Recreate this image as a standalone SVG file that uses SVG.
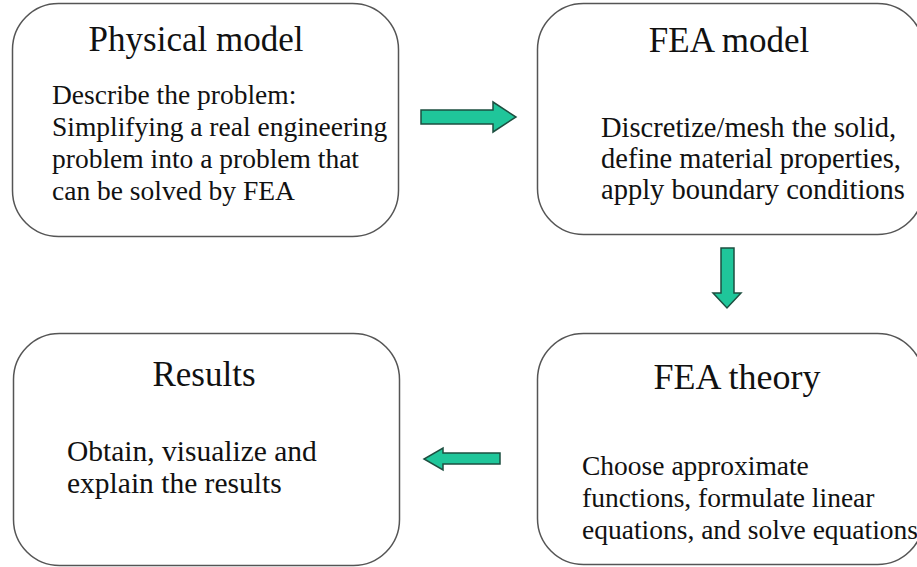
<svg xmlns="http://www.w3.org/2000/svg" width="917" height="567" viewBox="0 0 917 567">
  <style>
    .box { fill: #ffffff; stroke: #555555; stroke-width: 1.5; }
    .title { font-family: "Liberation Serif", "Times New Roman", serif; font-size: 35px; fill: #111111; text-anchor: middle; }
    .body { font-family: "Liberation Serif", "Times New Roman", serif; font-size: 27.5px; fill: #111111; }
    .arrow { fill: #1fc69a; stroke: #1d4f40; stroke-width: 1.5; stroke-linejoin: miter; }
  </style>
  <rect width="917" height="567" fill="#ffffff"/>

  <g id="physical-model">
    <rect class="box" x="12.5" y="3.5" width="386" height="233" rx="46" ry="46"/>
    <text class="title" x="196" y="51">Physical model</text>
    <text class="body" x="52" y="104">Describe the problem:</text>
    <text class="body" x="52" y="136">Simplifying a real engineering</text>
    <text class="body" x="52" y="168">problem into a problem that</text>
    <text class="body" x="52" y="200">can be solved by FEA</text>
  </g>

  <g id="fea-model">
    <rect class="box" x="537.5" y="3.5" width="386" height="231" rx="46" ry="46"/>
    <text class="title" x="729" y="52">FEA model</text>
    <text class="body" x="601" y="137" style="font-size:28.5px">Discretize/mesh the solid,</text>
    <text class="body" x="601" y="168" style="font-size:28.5px">define material properties,</text>
    <text class="body" x="601" y="199" style="font-size:28.5px">apply boundary conditions</text>
  </g>

  <g id="fea-theory">
    <rect class="box" x="537.5" y="333.5" width="386" height="231" rx="46" ry="46"/>
    <text class="title" x="737" y="389" style="font-size:36px">FEA theory</text>
    <text class="body" x="582" y="475">Choose approximate</text>
    <text class="body" x="582" y="507">functions, formulate linear</text>
    <text class="body" x="582" y="539">equations, and solve equations</text>
  </g>

  <g id="results">
    <rect class="box" x="13.5" y="333.5" width="386" height="232" rx="46" ry="46"/>
    <text class="title" x="204" y="386">Results</text>
    <text class="body" x="67" y="461" style="font-size:29.5px">Obtain, visualize and</text>
    <text class="body" x="67" y="493" style="font-size:29.5px">explain the results</text>
  </g>

  <g id="connectors">
    <!-- physical model -> FEA model -->
    <path class="arrow" d="M421,110 H493 V102 L516,117 L493,132 V124 H421 Z"/>
    <!-- FEA model -> FEA theory -->
    <path class="arrow" d="M721,248 H734 V293 H741 L727,308 L713,293 H721 Z"/>
    <!-- FEA theory -> results -->
    <path class="arrow" d="M500,453 H443 V448 L424,459 L443,470 V464 H500 Z"/>
  </g>
</svg>
